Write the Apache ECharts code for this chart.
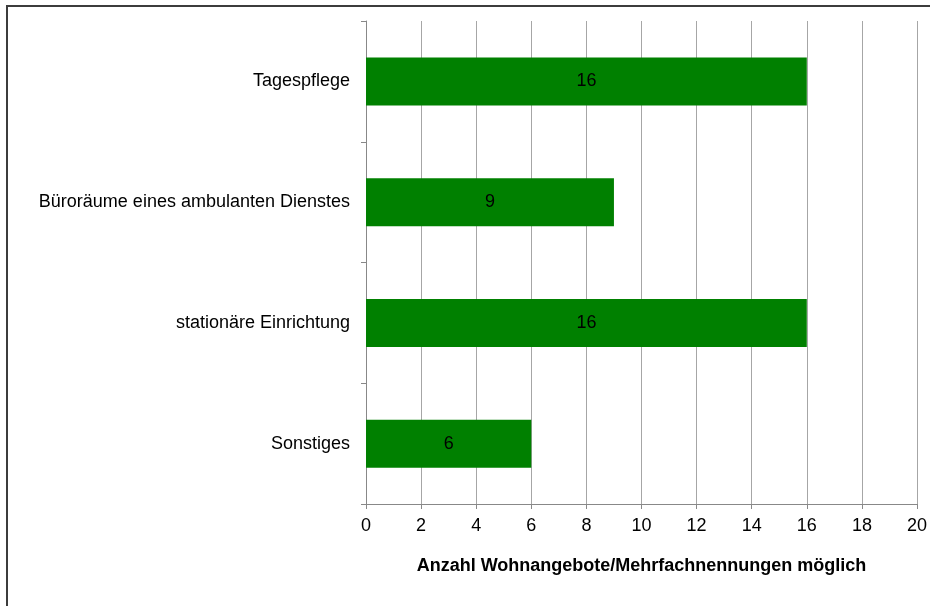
<!DOCTYPE html>
<html>
<head>
<meta charset="utf-8">
<script src="https://cdn.jsdelivr.net/npm/echarts@6/dist/echarts.min.js"></script>
<style>
  html, body { margin: 0; padding: 0; background: #fff; }
  #chart { width: 930px; height: 606px; }
</style>
</head>
<body>
<div id="chart"></div>
<script>
// Kategorien und Werte
const categories = ['Tagespflege', 'Büroräume eines ambulanten Dienstes', 'stationäre Einrichtung', 'Sonstiges'];
const values = [16, 9, 16, 6];
const axisName = 'Anzahl Wohnangebote/Mehrfachnennungen möglich';

const myChart = echarts.init(document.getElementById('chart'));
const font = 'Liberation Sans, Arial, sans-serif';

const option = {
  animation: false,
  textStyle: { fontFamily: font },
  graphic: [
    {
      type: 'rect',
      shape: { x: 7, y: 6, width: 1000, height: 1000 },
      style: { fill: 'none', stroke: '#3c3c3c', lineWidth: 2 }
    }
  ],
  grid: { left: 366, top: 21, right: 13, bottom: 102 },
  xAxis: {
    type: 'value',
    min: 0,
    max: 20,
    interval: 2,
    name: axisName,
    nameLocation: 'middle',
    nameGap: 53,
    nameTextStyle: { color: '#000', fontSize: 18, fontWeight: 'bold', fontFamily: font },
    axisLine: { show: true, lineStyle: { color: '#888', width: 1 } },
    axisTick: { show: true, length: 5, lineStyle: { color: '#888' } },
    axisLabel: { color: '#000', fontSize: 18, margin: 13, fontFamily: font },
    splitLine: { show: true, lineStyle: { color: '#a6a6a6', width: 1 } }
  },
  yAxis: {
    type: 'category',
    inverse: true,
    data: categories,
    axisLine: { show: true, lineStyle: { color: '#888', width: 1 } },
    axisTick: { show: true, length: 5, alignWithLabel: false, lineStyle: { color: '#888' } },
    axisLabel: { color: '#000', fontSize: 18, margin: 16, fontFamily: font }
  },
  series: [
    {
      type: 'bar',
      data: values,
      barWidth: 48,
      itemStyle: { color: '#008000' },
      label: {
        show: true,
        position: 'inside',
        color: '#000',
        fontSize: 18,
        fontFamily: font
      }
    }
  ]
};

myChart.setOption(option);
</script>
</body>
</html>
